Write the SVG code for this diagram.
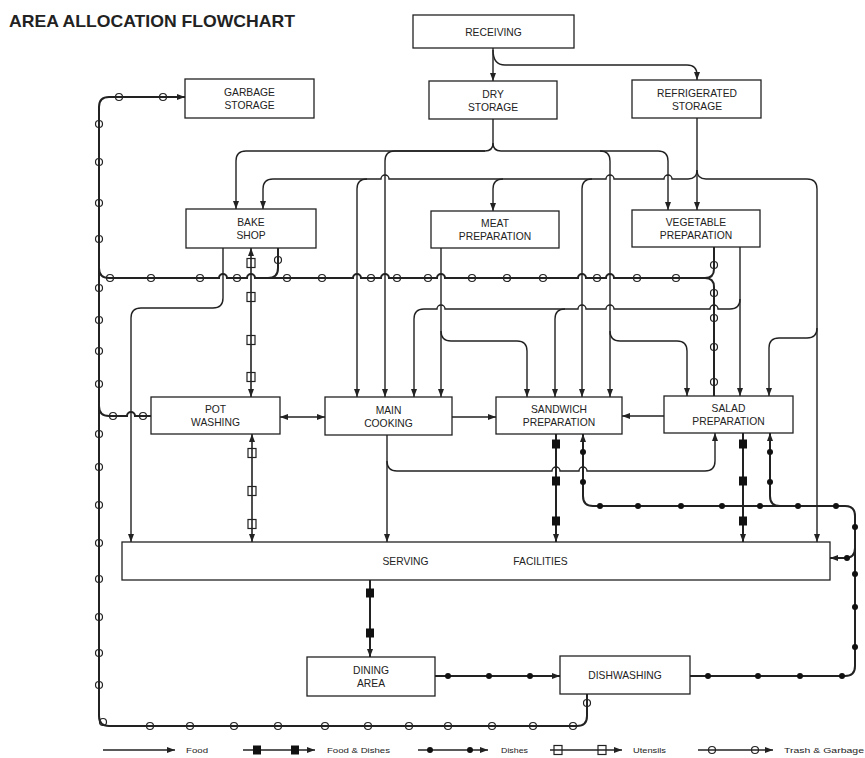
<svg xmlns="http://www.w3.org/2000/svg" width="865" height="758" viewBox="0 0 865 758">
<defs>
<marker id="a" viewBox="0 0 8 6" refX="8" refY="3" markerWidth="8" markerHeight="6" markerUnits="userSpaceOnUse" orient="auto-start-reverse"><path d="M0 0L8 3L0 6z" fill="#222"/></marker>
<style>
.box{fill:#fff;stroke:#222;stroke-width:1.3}
.lbl{font-family:"Liberation Sans",Arial,sans-serif;font-size:10.3px;fill:#222;text-anchor:middle}
.leg{font-family:"Liberation Sans",Arial,sans-serif;font-size:8px;fill:#222}
.f{fill:none;stroke:#222;stroke-width:1.4}
.h{fill:none;stroke:#222;stroke-width:2}
.u{fill:none;stroke:#222;stroke-width:1.6}
.tc{fill:#fff;fill-opacity:0;stroke:#222;stroke-width:1.2}
.us{fill:none;stroke:#222;stroke-width:1.2}
.fs{fill:#111}
.dd{fill:#111}
</style>
</defs>
<rect width="865" height="758" fill="#fff"/>
<text x="9" y="27" font-family="Liberation Sans,Arial,sans-serif" font-weight="bold" font-size="17" textLength="286" lengthAdjust="spacingAndGlyphs" fill="#222">AREA ALLOCATION FLOWCHART</text>

<g id="connectors">
<g id="food" class="f" marker-end="url(#a)">
<path d="M493 48V81"/>
<path d="M493 50Q493 65 505 65H687Q697 65 697 75V80"/>
<path d="M493 119V143Q493 151 485 151H246Q236 151 236 161V209"/>
<path d="M485 151H395Q385 151 385 161V397"/>
<path d="M493 143Q493 151 501 151H600Q610 151 610 161V397"/>
<path d="M600 151H658Q668 151 668 161V210"/>
<path d="M610 331Q610 341 620 341H677Q687 341 687 351V396"/>
<path d="M697 118V210"/>
<path d="M697 170Q697 179 688 179H672A4 4 0 0 0 664 179H614A4 4 0 0 0 606 179H389A4 4 0 0 0 381 179H273Q263 179 263 189V209"/>
<path d="M592 179Q582 179 582 189V397"/>
<path d="M503 179Q493 179 493 189V211"/>
<path d="M367 179Q357 179 357 189V397"/>
<path d="M697 170Q697 179 706 179H807Q817 179 817 189V542"/>
<path d="M817 328Q817 338 807 338H779Q769 338 769 348V396"/>
<path d="M441 248V397"/>
<path d="M441 331Q441 341 451 341H517Q527 341 527 351V397"/>
<path d="M740 247V396"/>
<path d="M740 299Q740 309 730 309H718A4 4 0 0 0 710 309H614A4 4 0 0 0 606 309H586A4 4 0 0 0 578 309H445A4 4 0 0 0 437 309H424Q414 309 414 319V397"/>
<path d="M565 309Q555 309 555 319V397"/>
<path d="M223 248V298Q223 308 213 308H141Q131 308 131 318V542"/>
<path d="M387 435V542"/>
<path d="M387 461Q387 471 397 471H552A4 4 0 0 1 560 471H579A4 4 0 0 1 587 471H705Q715 471 715 461V433"/>
<path d="M280 417H325" marker-start="url(#a)"/>
<path d="M452 417H496"/>
<path d="M664 416H622"/>
</g>
<g id="trash" class="h">
<path d="M587 694V716Q587 726 577 726H109Q99 726 99 716V107Q99 97 109 97H185" marker-end="url(#a)"/>
<path d="M99 268Q99 278 109 278H219A4 4 0 0 1 227 278H247A4 4 0 0 1 255 278H353A4 4 0 0 1 361 278H381A4 4 0 0 1 389 278H437A4 4 0 0 1 445 278H578A4 4 0 0 1 586 278H606A4 4 0 0 1 614 278H705"/>
<path d="M714 247V269Q714 278 705 278"/>
<path d="M714 396V287Q714 278 705 278"/>
<path d="M278 248V268Q278 278 268 278"/>
<path d="M99 406Q99 416 109 416H127A4 4 0 0 1 135 416H151"/>
</g>
<g id="trash-marks" class="tc">
<circle cx="119" cy="97" r="3.5"/><circle cx="163" cy="97" r="3.5"/>
<circle cx="99" cy="124" r="3.5"/><circle cx="99" cy="162" r="3.5"/><circle cx="99" cy="203" r="3.5"/><circle cx="99" cy="239" r="3.5"/><circle cx="99" cy="288" r="3.5"/><circle cx="99" cy="320" r="3.5"/><circle cx="99" cy="351" r="3.5"/><circle cx="99" cy="384" r="3.5"/><circle cx="99" cy="434" r="3.5"/><circle cx="99" cy="467" r="3.5"/><circle cx="99" cy="505" r="3.5"/><circle cx="99" cy="543" r="3.5"/><circle cx="99" cy="579" r="3.5"/><circle cx="99" cy="617" r="3.5"/><circle cx="99" cy="653" r="3.5"/><circle cx="99" cy="685" r="3.5"/>
<circle cx="103" cy="722" r="3.5"/>
<circle cx="150" cy="726" r="3.5"/><circle cx="190" cy="726" r="3.5"/><circle cx="234" cy="726" r="3.5"/><circle cx="278" cy="726" r="3.5"/><circle cx="325" cy="726" r="3.5"/><circle cx="368" cy="726" r="3.5"/><circle cx="409" cy="726" r="3.5"/><circle cx="448" cy="726" r="3.5"/><circle cx="492" cy="726" r="3.5"/><circle cx="533" cy="726" r="3.5"/><circle cx="573" cy="726" r="3.5"/>
<circle cx="587" cy="703" r="3.5"/>
<circle cx="110" cy="278" r="3.5"/><circle cx="151" cy="278" r="3.5"/><circle cx="200" cy="278" r="3.5"/><circle cx="237" cy="278" r="3.5"/><circle cx="287" cy="278" r="3.5"/><circle cx="322" cy="278" r="3.5"/><circle cx="371" cy="278" r="3.5"/><circle cx="397" cy="278" r="3.5"/><circle cx="428" cy="278" r="3.5"/><circle cx="472" cy="278" r="3.5"/><circle cx="507" cy="278" r="3.5"/><circle cx="543" cy="278" r="3.5"/><circle cx="597" cy="278" r="3.5"/><circle cx="637" cy="278" r="3.5"/><circle cx="676" cy="278" r="3.5"/>
<circle cx="714" cy="265" r="3.5"/><circle cx="714" cy="293" r="3.5"/><circle cx="714" cy="318" r="3.5"/><circle cx="714" cy="347" r="3.5"/><circle cx="714" cy="382" r="3.5"/>
<circle cx="278" cy="260" r="3.5"/>
<circle cx="113" cy="416" r="3.5"/><circle cx="143" cy="416" r="3.5"/>
</g>
<g id="utensils">
<path class="u" d="M251 248V397" marker-start="url(#a)" marker-end="url(#a)"/>
<path class="u" d="M252 434V542" marker-start="url(#a)" marker-end="url(#a)"/>
<g class="us">
<rect x="247" y="258.5" width="8" height="9"/><rect x="247" y="292.5" width="8" height="9"/><rect x="247" y="335.5" width="8" height="9"/><rect x="247" y="372.5" width="8" height="9"/>
<rect x="248" y="448.5" width="8" height="9"/><rect x="248" y="486.5" width="8" height="9"/><rect x="248" y="519.5" width="8" height="9"/>
</g>
</g>
<g id="food-dishes">
<path class="h" d="M556 434V542" marker-end="url(#a)"/>
<path class="h" d="M743 433V542" marker-end="url(#a)"/>
<path class="h" d="M370 580V657" marker-end="url(#a)"/>
<g class="fs">
<rect x="552" y="439.5" width="8" height="9"/><rect x="552" y="476.5" width="8" height="9"/><rect x="552" y="516.5" width="8" height="9"/>
<rect x="739" y="439.5" width="8" height="9"/><rect x="739" y="476.5" width="8" height="9"/><rect x="739" y="516.5" width="8" height="9"/>
<rect x="366" y="588.5" width="8" height="9"/><rect x="366" y="628.5" width="8" height="9"/>
</g>
</g>
<g id="dishes">
<g class="h" marker-end="url(#a)">
<path d="M435 676H560"/>
<path d="M690 676H845Q855 676 855 666V516Q855 506 845 506H593Q583 506 583 496V434"/>
<path d="M780 506Q770 506 770 496V433"/>
<path d="M855 548Q855 558 845 558H830"/>
</g>
<g class="dd">
<circle cx="448" cy="676" r="3"/><circle cx="489" cy="676" r="3"/><circle cx="530" cy="676" r="3"/>
<circle cx="708" cy="676" r="3"/><circle cx="758" cy="676" r="3"/><circle cx="800" cy="676" r="3"/><circle cx="842" cy="676" r="3"/>
<circle cx="855" cy="647" r="3"/><circle cx="855" cy="607" r="3"/><circle cx="855" cy="574" r="3"/><circle cx="855" cy="527" r="3"/>
<circle cx="836" cy="506" r="3"/><circle cx="798" cy="506" r="3"/><circle cx="760" cy="506" r="3"/><circle cx="722" cy="506" r="3"/><circle cx="681" cy="506" r="3"/><circle cx="638" cy="506" r="3"/><circle cx="600" cy="506" r="3"/>
<circle cx="583" cy="482" r="3"/><circle cx="583" cy="452" r="3"/>
<circle cx="770" cy="482" r="3"/><circle cx="770" cy="452" r="3"/>
<circle cx="847" cy="558" r="3"/>
</g>
</g>
</g>

<g id="receiving"><rect class="box" x="413" y="15" width="161" height="33"/><text class="lbl" x="493.5" y="36">RECEIVING</text></g>
<g id="dry-storage"><rect class="box" x="429" y="81" width="128" height="38"/><text class="lbl" x="493" y="97.5">DRY</text><text class="lbl" x="493" y="110.5">STORAGE</text></g>
<g id="refrigerated-storage"><rect class="box" x="632" y="80" width="129" height="38"/><text class="lbl" x="697" y="96.5">REFRIGERATED</text><text class="lbl" x="697" y="109.5">STORAGE</text></g>
<g id="garbage-storage"><rect class="box" x="185" y="79" width="129" height="39"/><text class="lbl" x="249.5" y="96">GARBAGE</text><text class="lbl" x="249.5" y="109">STORAGE</text></g>
<g id="bake-shop"><rect class="box" x="186" y="209" width="130" height="39"/><text class="lbl" x="251" y="226">BAKE</text><text class="lbl" x="251" y="239">SHOP</text></g>
<g id="meat-preparation"><rect class="box" x="431" y="211" width="128" height="37"/><text class="lbl" x="495" y="227">MEAT</text><text class="lbl" x="495" y="240">PREPARATION</text></g>
<g id="vegetable-preparation"><rect class="box" x="632" y="210" width="128" height="37"/><text class="lbl" x="696" y="226">VEGETABLE</text><text class="lbl" x="696" y="239">PREPARATION</text></g>
<g id="pot-washing"><rect class="box" x="151" y="397" width="129" height="37"/><text class="lbl" x="215.5" y="413">POT</text><text class="lbl" x="215.5" y="426">WASHING</text></g>
<g id="main-cooking"><rect class="box" x="325" y="397" width="127" height="38"/><text class="lbl" x="388.5" y="413.5">MAIN</text><text class="lbl" x="388.5" y="426.5">COOKING</text></g>
<g id="sandwich-preparation"><rect class="box" x="496" y="397" width="126" height="37"/><text class="lbl" x="559" y="413">SANDWICH</text><text class="lbl" x="559" y="426">PREPARATION</text></g>
<g id="salad-preparation"><rect class="box" x="664" y="396" width="129" height="37"/><text class="lbl" x="728.5" y="412">SALAD</text><text class="lbl" x="728.5" y="425">PREPARATION</text></g>
<g id="serving-facilities"><rect class="box" x="122" y="542" width="708" height="38"/><text class="lbl" x="405.5" y="565">SERVING</text><text class="lbl" x="540.5" y="565">FACILITIES</text></g>
<g id="dining-area"><rect class="box" x="307" y="657" width="128" height="39"/><text class="lbl" x="371" y="674">DINING</text><text class="lbl" x="371" y="687">AREA</text></g>
<g id="dishwashing"><rect class="box" x="560" y="656" width="130" height="38"/><text class="lbl" x="625" y="679">DISHWASHING</text></g>

<g id="legend">
<path class="f" d="M103 750H175" marker-end="url(#a)"/>
<text class="leg" x="186" y="753" textLength="22" lengthAdjust="spacingAndGlyphs">Food</text>
<path class="f" d="M243 750H315" marker-end="url(#a)"/>
<rect class="fs" x="253" y="745.5" width="8" height="9"/><rect class="fs" x="291" y="745.5" width="8" height="9"/>
<text class="leg" x="327" y="753" textLength="63" lengthAdjust="spacingAndGlyphs">Food &amp; Dishes</text>
<path class="f" d="M418 750H488" marker-end="url(#a)"/>
<circle class="dd" cx="430" cy="750" r="3"/><circle class="dd" cx="470" cy="750" r="3"/>
<text class="leg" x="501" y="753" textLength="27" lengthAdjust="spacingAndGlyphs">Dishes</text>
<path class="f" d="M550 750H622" marker-end="url(#a)"/>
<rect class="us" x="554" y="745.5" width="8" height="9"/><rect class="us" x="598" y="745.5" width="8" height="9"/>
<text class="leg" x="633" y="753" textLength="33" lengthAdjust="spacingAndGlyphs">Utensils</text>
<path class="f" d="M698 750H773" marker-end="url(#a)"/>
<circle class="tc" cx="712" cy="750" r="3.5"/><circle class="tc" cx="755" cy="750" r="3.5"/>
<text class="leg" x="784" y="753" textLength="80" lengthAdjust="spacingAndGlyphs">Trash &amp; Garbage</text>
</g>
</svg>
